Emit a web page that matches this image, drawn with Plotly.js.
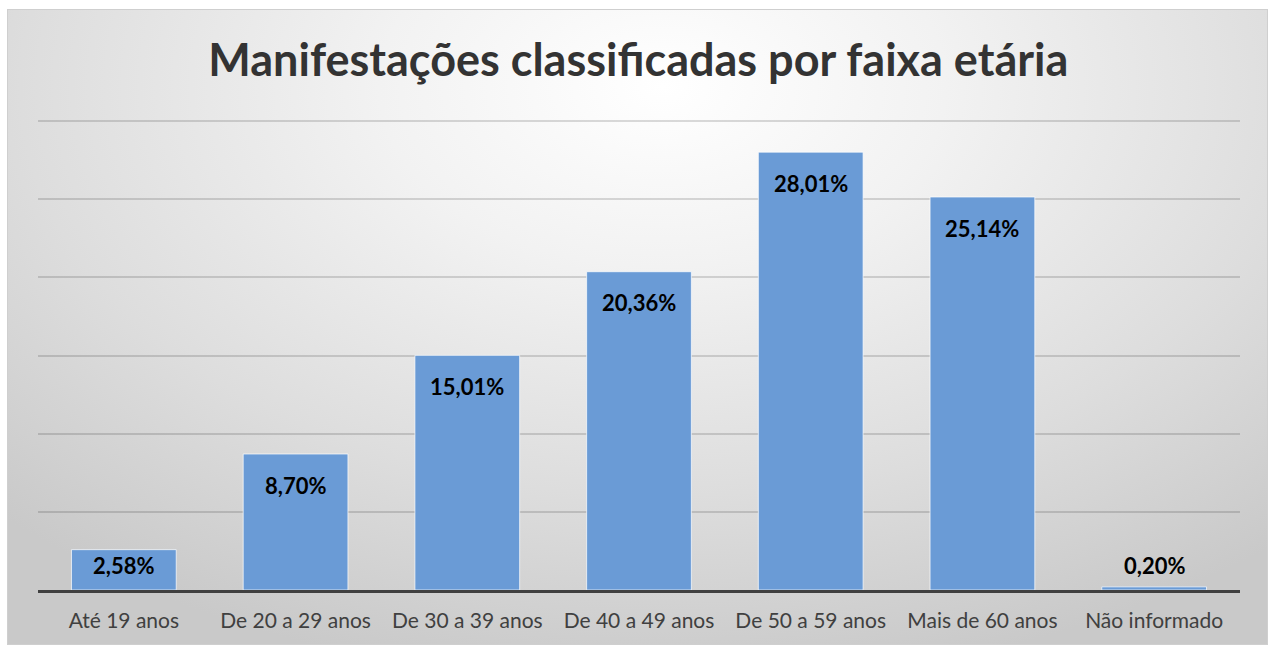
<!DOCTYPE html>
<html>
<head>
<meta charset="utf-8">
<script src="https://cdn.plot.ly/plotly-3.0.1.min.js"></script>
<style>
html, body { margin:0; padding:0; background:#ffffff; }
#frame {
  position:absolute; left:7px; top:9px; width:1261px; height:636px;
  border:1px solid #cfcfcf; box-sizing:border-box;
  background: radial-gradient(ellipse 75% 95% at 52% 12%, #ffffff 0%, #f2f2f2 30%, #dddddd 68%, #c9c9c9 100%);
}
#chart { position:absolute; left:0; top:0; width:1269px; height:646px; }
</style>
</head>
<body>
<div id="frame"></div>
<div id="chart"></div>
<script>
const categories = ["Até 19 anos", "De 20 a 29 anos", "De 30 a 39 anos", "De 40 a 49 anos", "De 50 a 59 anos", "Mais de 60 anos", "Não informado"];
const values = [2.58, 8.70, 15.01, 20.36, 28.01, 25.14, 0.20];
const labels = values.map(v => v.toFixed(2).replace('.', ',') + '%');

const yMax = 30.13;
const marginT = 119, marginB = 56;
const plotH = 646 - marginT - marginB;
const pxPerUnit = plotH / yMax;

const trace = {
  type: 'bar',
  x: categories,
  y: values,
  marker: { color: '#6a9bd6', line: { color: 'rgba(255,255,255,0.7)', width: 1 } },
  hoverinfo: 'skip'
};

const annotations = values.map((v, i) => {
  const hPx = v * pxPerUnit;
  const inside = hPx > 30;
  return {
    x: categories[i], y: v, xref: 'x', yref: 'y',
    text: '<b>' + labels[i] + '</b>',
    showarrow: false,
    yanchor: 'middle',
    yshift: inside ? -Math.min(31, hPx - 25) : 21,
    font: { family: 'Lato, sans-serif', size: 22, color: '#000000' }
  };
});

const layout = {
  width: 1269, height: 646,
  paper_bgcolor: 'rgba(0,0,0,0)',
  plot_bgcolor: 'rgba(0,0,0,0)',
  margin: { l: 38, r: 29, t: marginT, b: marginB },
  title: {
    text: '<b>Manifestações classificadas por faixa etária</b>',
    x: 0.503, xanchor: 'center', y: 0.906, yanchor: 'middle',
    font: { family: 'Lato, sans-serif', size: 45, color: '#333333' }
  },
  bargap: 0.39,
  showlegend: false,
  annotations: annotations,
  xaxis: {
    showline: true, linecolor: '#404040', linewidth: 3,
    ticks: '', showgrid: false, ticklabelstandoff: 10,
    tickfont: { family: 'Lato, sans-serif', size: 21, color: '#404040' }
  },
  yaxis: {
    range: [0, yMax], tickvals: [5, 10, 15, 20, 25, 30], showticklabels: false,
    showgrid: true, gridcolor: 'rgba(0,0,0,0.14)', gridwidth: 2,
    zeroline: false, fixedrange: true
  }
};

Plotly.newPlot('chart', [trace], layout, { displayModeBar: false, staticPlot: true });
</script>
</body>
</html>
